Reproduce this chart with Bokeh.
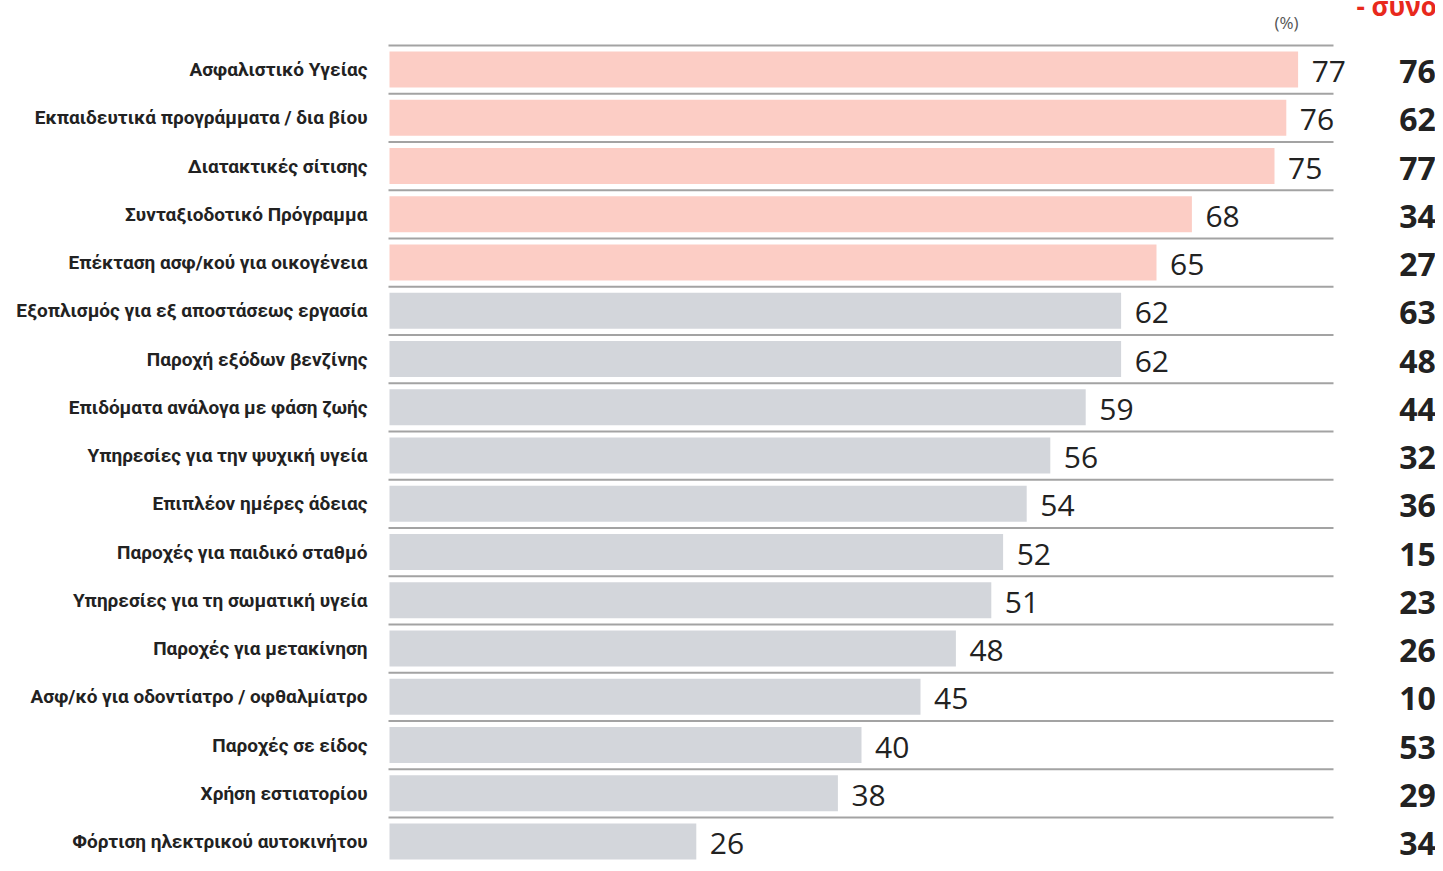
from bokeh.plotting import figure
from bokeh.models import ColumnDataSource, Range1d
from bokeh.core.properties import value
from bokeh.embed import file_html
from bokeh.resources import INLINE

categories = [
    "Ασφαλιστικό Υγείας",
    "Εκπαιδευτικά προγράμματα / δια βίου",
    "Διατακτικές σίτισης",
    "Συνταξιοδοτικό Πρόγραμμα",
    "Επέκταση ασφ/κού για οικογένεια",
    "Εξοπλισμός για εξ αποστάσεως εργασία",
    "Παροχή εξόδων βενζίνης",
    "Επιδόματα ανάλογα με φάση ζωής",
    "Υπηρεσίες για την ψυχική υγεία",
    "Επιπλέον ημέρες άδειας",
    "Παροχές για παιδικό σταθμό",
    "Υπηρεσίες για τη σωματική υγεία",
    "Παροχές για μετακίνηση",
    "Ασφ/κό για οδοντίατρο / οφθαλμίατρο",
    "Παροχές σε είδος",
    "Χρήση εστιατορίου",
    "Φόρτιση ηλεκτρικού αυτοκινήτου",
]
values = [77, 76, 75, 68, 65, 62, 62, 59, 56, 54, 52, 51, 48, 45, 40, 38, 26]
totals = [76, 62, 77, 34, 27, 63, 48, 44, 32, 36, 15, 23, 26, 10, 53, 29, 34]
highlight_count = 5
unit_label = "(%)"
column_title = "- συνολικά"

W, H = 1435, 863
PX_PER_UNIT = 11.8
BAR_X0_PX = 389
ROW_PX = 48.25
ROW0_PX = 69

def px_x(px):
    return (px - BAR_X0_PX) / PX_PER_UNIT

def px_y(px):
    return (px - ROW0_PX) / ROW_PX

p = figure(width=W, height=H, output_backend="svg", toolbar_location=None,
           x_range=Range1d(px_x(0), px_x(W)), y_range=Range1d(px_y(H), px_y(0)),
           min_border=0, min_border_left=0, min_border_right=0,
           min_border_top=0, min_border_bottom=0)
p.axis.visible = False
p.grid.visible = False
p.outline_line_color = None
p.background_fill_color = "white"
p.border_fill_color = "white"

n = len(categories)
rows = list(range(n))
colors = ["#FCCDC5" if i < highlight_count else "#D3D6DB" for i in rows]

src = ColumnDataSource(dict(
    y=rows, v=values, t=[str(t) for t in totals], vs=[str(v) for v in values],
    cat=categories, color=colors,
    vx=[v + 1.15 for v in values],
))

# separator lines
line_end = px_x(1333)
for i in rows:
    p.line([px_x(388), line_end], [i - 0.5, i - 0.5], line_color="#A3A3A3", line_width=2)

p.hbar(y="y", left=0, right="v", height=36 / ROW_PX, fill_color="color",
       line_color=None, source=src)

p.text(x=px_x(367), y="y", text="cat", source=src, text_align="right",
       text_baseline="middle", text_font=value("Roboto"), text_font_size="19px",
       text_color="#222222", text_font_style="bold", y_offset=0)

p.text(x="vx", y="y", text="vs", source=src, text_align="left",
       text_baseline="middle", text_font=value("Open Sans"), text_font_size="30px",
       text_color="#222222", y_offset=2)

p.text(x=px_x(1417), y="y", text="t", source=src, text_align="center",
       text_baseline="middle", text_font=value("Open Sans"), text_font_size="32px",
       text_color="#222222", text_font_style="bold", y_offset=2)

p.text(x=[px_x(1298)], y=[px_y(22)], text=[unit_label],
       text_align="right", text_baseline="middle", text_font=value("Open Sans"),
       text_font_size="17px", text_color="#555555")

p.text(x=[px_x(1356)], y=[px_y(5)], text=[column_title],
       text_align="left", text_baseline="alphabetic", text_font=value("Open Sans"),
       text_font_size="26px", text_color="#E8291C", text_font_style="bold")

open("out.html", "w").write(file_html(p, INLINE))
